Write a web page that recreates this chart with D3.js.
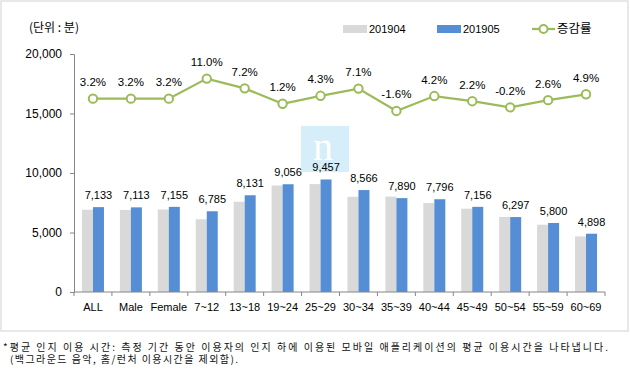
<!DOCTYPE html>
<html><head><meta charset="utf-8">
<script src="https://cdn.jsdelivr.net/npm/d3@7"></script>
<style>
html,body{margin:0;padding:0;background:#fff;}
svg{display:block;}
</style></head>
<body>
<script>
const categories = ["ALL","Male","Female","7~12","13~18","19~24","25~29","30~34","35~39","40~44","45~49","50~54","55~59","60~69"];
const series201904 = [6912,6892,6933,6113,7585,8949,9067,7998,8018,7482,7002,6310,5653,4669];
const series201905 = [7133,7113,7155,6785,8131,9056,9457,8566,7890,7796,7156,6297,5800,4898];
const growthRate = [3.2,3.2,3.2,11.0,7.2,1.2,4.3,7.1,-1.6,4.2,2.2,-0.2,2.6,4.9];
const yTicks = [0,5000,10000,15000,20000];
const legendLabels = ["201904","201905","증감률"];
const unitLabel = "(단위 : 분)";
const footnote1 = "*평균 인지 이용 시간: 측정 기간 동안 이용자의 인지 하에 이용된 모바일 애플리케이션의 평균 이용시간을 나타냅니다.";
const footnote2 = "(백그라운드 음악, 홈/런처 이용시간을 제외함).";

const W = 630, H = 381;
const GRAY = "#D9D9D9", BLUE = "#558ED5", GREEN = "#9BBB59", AXIS = "#868686";
const NUMFONT = "'Liberation Sans', Arial, sans-serif";
const KRFONT = "'Noto Sans CJK KR', sans-serif";

const svg = d3.select("body").append("svg").attr("width", W).attr("height", H);

// frame
svg.append("rect").attr("x",1).attr("y",1).attr("width",627).attr("height",330)
  .attr("fill","#fff").attr("stroke","#D9D9D9").attr("stroke-width",1.2);

const x = d3.scaleBand().domain(categories).range([74,605]).padding(0);
const y = d3.scaleLinear().domain([0,20000]).range([292,54]);
const y2 = d3.scaleLinear().domain([-72.2,20.6]).range([292,54]);

// watermark
svg.append("rect").attr("x",301).attr("y",126).attr("width",48).attr("height",46).attr("fill","#D5EEF9");
svg.append("text").attr("x",323).attr("y",160).attr("text-anchor","middle")
  .attr("font-family","'Liberation Serif', 'DejaVu Serif', serif").attr("font-size",40)
  .attr("fill","#fff").text("n");

// y axis
const yAxis = svg.append("g").attr("transform","translate(74,0)")
  .call(d3.axisLeft(y).tickValues(yTicks).tickSize(4).tickPadding(8).tickFormat(d3.format(",")));
yAxis.select(".domain").attr("stroke",AXIS);
yAxis.selectAll(".tick line").attr("stroke",AXIS);
yAxis.selectAll("text").attr("font-family",NUMFONT).attr("font-size",12).attr("fill","#000");

// bars
const bw = 11;
svg.append("g").selectAll("rect").data(series201904).join("rect")
  .attr("x",(d,i)=>x(categories[i])+x.bandwidth()/2-bw)
  .attr("y",d=>y(d)).attr("width",bw).attr("height",d=>y(0)-y(d)).attr("fill",GRAY);
svg.append("g").selectAll("rect").data(series201905).join("rect")
  .attr("x",(d,i)=>x(categories[i])+x.bandwidth()/2)
  .attr("y",d=>y(d)).attr("width",bw).attr("height",d=>y(0)-y(d)).attr("fill",BLUE);

// x axis
const xAxisG = svg.append("g").attr("transform","translate(0,292)");
xAxisG.append("line").attr("x1",74).attr("x2",605).attr("stroke",AXIS);
const bounds = categories.map(c=>x(c)).concat([x.range()[1]]);
xAxisG.selectAll("line.tk").data(bounds).join("line").attr("class","tk")
  .attr("x1",d=>d).attr("x2",d=>d).attr("y1",0).attr("y2",4).attr("stroke",AXIS);
xAxisG.selectAll("text").data(categories).join("text")
  .attr("x",d=>x(d)+x.bandwidth()/2).attr("y",15).attr("dy","0.35em")
  .attr("text-anchor","middle").attr("font-family",NUMFONT).attr("font-size",11).attr("fill","#000")
  .text(d=>d);

// value labels
svg.append("g").selectAll("text").data(series201905).join("text")
  .attr("x",(d,i)=>x(categories[i])+x.bandwidth()/2+bw/2)
  .attr("y",d=>y(d)-12).attr("dy","0.35em").attr("text-anchor","middle")
  .attr("font-family",NUMFONT).attr("font-size",11).attr("fill","#000")
  .text(d=>d3.format(",")(d));

// line
const cx = (i)=>x(categories[i])+x.bandwidth()/2;
const line = d3.line().x((d,i)=>cx(i)).y(d=>y2(d));
svg.append("path").datum(growthRate).attr("d",line).attr("fill","none")
  .attr("stroke",GREEN).attr("stroke-width",2.25);
svg.append("g").selectAll("circle").data(growthRate).join("circle")
  .attr("cx",(d,i)=>cx(i)).attr("cy",d=>y2(d)).attr("r",4.2)
  .attr("fill","#fff").attr("stroke",GREEN).attr("stroke-width",2);
svg.append("g").selectAll("text").data(growthRate).join("text")
  .attr("x",(d,i)=>cx(i)).attr("y",d=>y2(d)-16.5).attr("dy","0.35em").attr("text-anchor","middle")
  .attr("font-family",NUMFONT).attr("font-size",11.5).attr("fill","#000")
  .text(d=>d.toFixed(1)+"%");

// unit label
svg.append("text").attr("x",29).attr("y",28).attr("dy","0.35em")
  .attr("font-family",KRFONT).attr("font-size",12).attr("fill","#000").text(unitLabel);

// legend
const lg = svg.append("g");
lg.append("rect").attr("x",343).attr("y",25).attr("width",24).attr("height",8).attr("fill",GRAY);
lg.append("text").attr("x",369).attr("y",29).attr("dy","0.35em").attr("font-family",NUMFONT)
  .attr("font-size",11).attr("fill","#000").text(legendLabels[0]);
lg.append("rect").attr("x",437).attr("y",25).attr("width",24).attr("height",8).attr("fill",BLUE);
lg.append("text").attr("x",463).attr("y",29).attr("dy","0.35em").attr("font-family",NUMFONT)
  .attr("font-size",11).attr("fill","#000").text(legendLabels[1]);
lg.append("line").attr("x1",532).attr("x2",555).attr("y1",29).attr("y2",29).attr("stroke",GREEN).attr("stroke-width",2.25);
lg.append("circle").attr("cx",543.5).attr("cy",29).attr("r",4).attr("fill","#fff").attr("stroke",GREEN).attr("stroke-width",2);
lg.append("text").attr("x",557).attr("y",29).attr("dy","0.35em").attr("font-family",KRFONT)
  .attr("font-size",12.5).attr("fill","#000").text(legendLabels[2]);

// footnotes
svg.append("text").attr("x",3).attr("y",347.5).attr("dy","0.35em")
  .attr("font-family",KRFONT).attr("font-size",10).attr("fill","#111")
  .attr("textLength",605).attr("lengthAdjust","spacing").text(footnote1);
svg.append("text").attr("x",10).attr("y",359.5).attr("dy","0.35em")
  .attr("font-family",KRFONT).attr("font-size",10).attr("fill","#111")
  .attr("textLength",228).attr("lengthAdjust","spacing").text(footnote2);
</script>
</body></html>
